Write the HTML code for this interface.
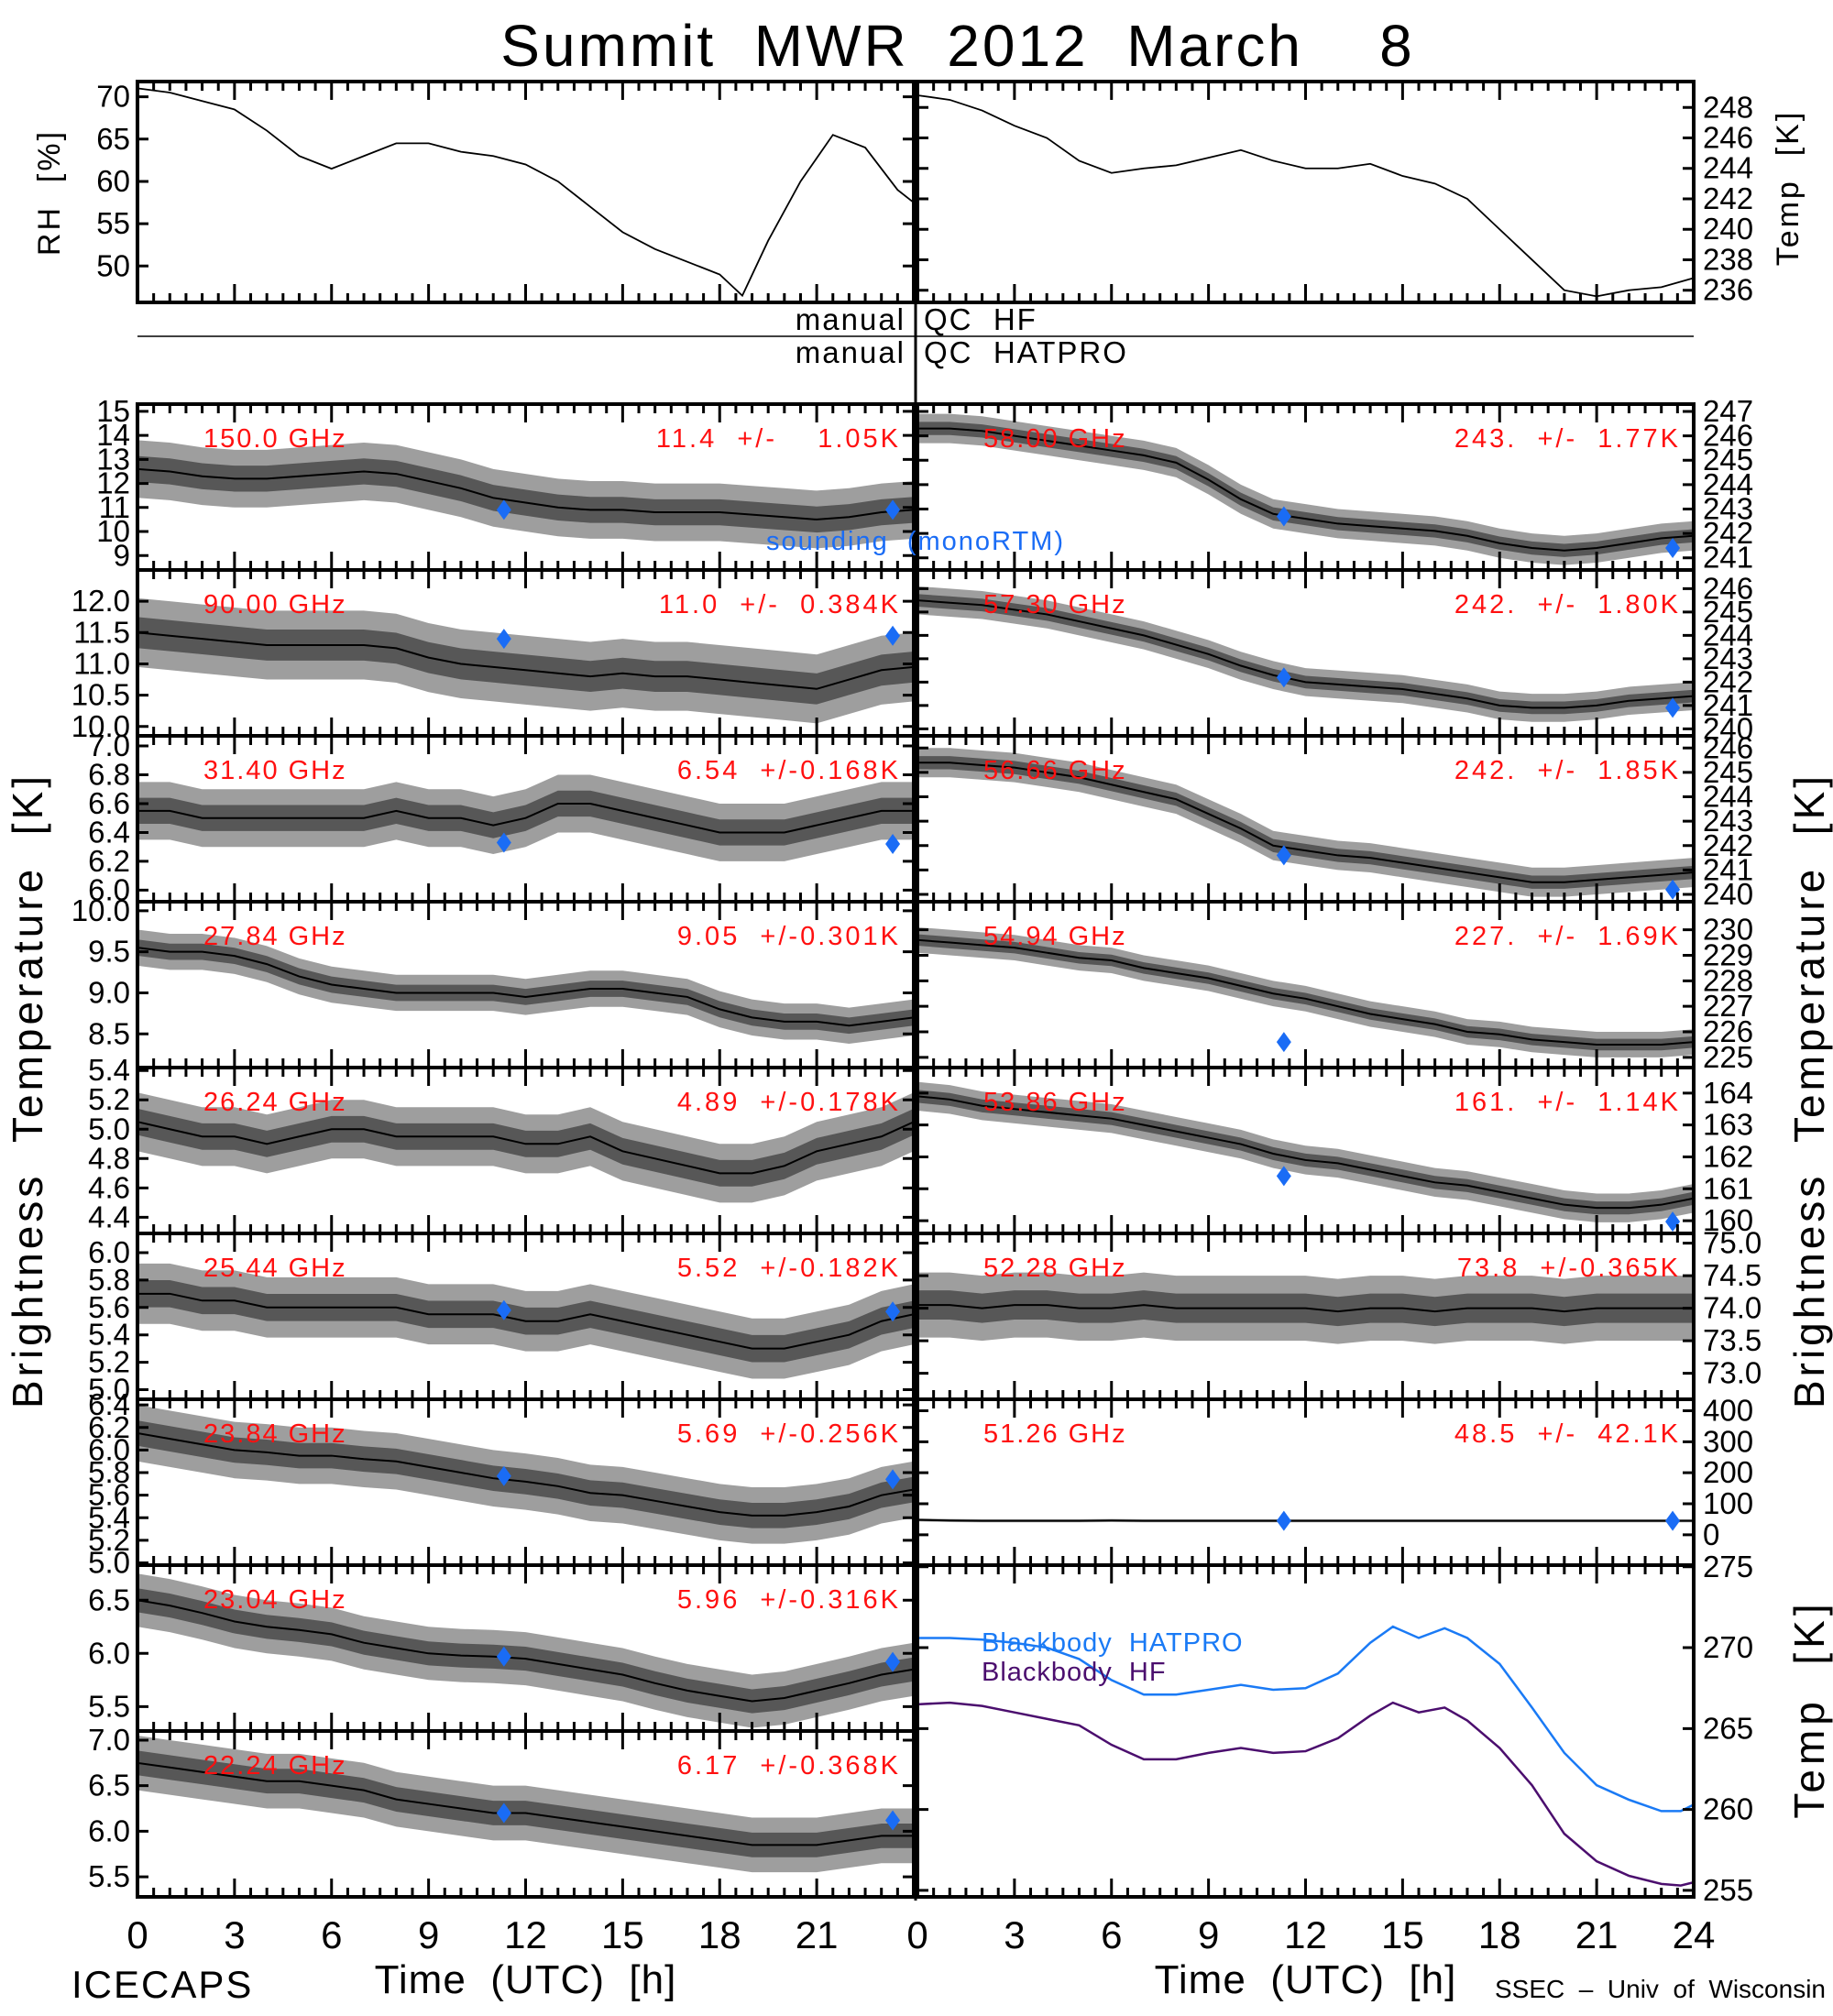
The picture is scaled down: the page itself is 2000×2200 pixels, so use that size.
<!DOCTYPE html>
<html><head><meta charset="utf-8"><style>
html,body{margin:0;padding:0;background:#fff;}
svg{display:block;font-family:"Liberation Sans",sans-serif;}
svg text{white-space:pre;}
</style></head><body>
<svg id="chart" width="2000" height="2200" viewBox="0 0 2000 2200" xmlns="http://www.w3.org/2000/svg">
<rect width="2000" height="2200" fill="#fff"/>
<text x="1045" y="72" font-size="64" text-anchor="middle" letter-spacing="3" style="white-space:pre">Summit  MWR  2012  March    8</text>
<g id="g"></g>
</svg>
<script>
// ---- data (hours, values) ----
const hours = [0,1,2,3,4,5,6,7,8,9,10,11,12,13,14,15,16,17,18,19,20,21,22,23,24];
const rhHours = [0,1,2,3,4,5,6,7,8,9,10,11,12,13,14,15,16,17,18,18.7,19.5,20.5,21.5,22.5,23.5,24];
const rhVals = [71,70.5,69.5,68.5,66,63,61.5,63,64.5,64.5,63.5,63,62,60,57,54,52,50.5,49,46.5,53,60,65.5,64,59,57.5];
const tempHours = [0,1,2,3,4,5,6,7,8,9,10,11,12,13,14,15,16,17,18,19,20,21,22,23,24];
const tempVals = [248.8,248.5,247.8,246.8,246,244.5,243.7,244,244.2,244.7,245.2,244.5,244,244,244.3,243.5,243,242,240,238,236,235.6,236,236.2,236.8];

const bbHours = [0,1,2,3,4,5,6,7,8,9,10,11,12,13,14,14.7,15.5,16.3,17,18,19,20,21,22,23,23.6,24];
const bbHatpro = [270.6,270.6,270.5,270.3,270,269.3,268,267.1,267.1,267.4,267.7,267.4,267.5,268.4,270.3,271.3,270.6,271.2,270.6,269,266.3,263.5,261.5,260.6,259.9,259.9,260.3];
const bbHf = [266.5,266.6,266.4,266,265.6,265.2,264,263.1,263.1,263.5,263.8,263.5,263.6,264.4,265.8,266.6,266,266.3,265.5,263.8,261.5,258.5,256.8,255.9,255.4,255.3,255.5];

const tb150 = [12.6,12.5,12.3,12.2,12.2,12.3,12.4,12.5,12.4,12.1,11.8,11.4,11.2,11.0,10.9,10.9,10.8,10.8,10.8,10.7,10.6,10.5,10.6,10.8,10.9];
const tb90 = [11.5,11.45,11.4,11.35,11.3,11.3,11.3,11.3,11.25,11.1,11.0,10.95,10.9,10.85,10.8,10.85,10.8,10.8,10.75,10.7,10.65,10.6,10.75,10.9,10.95];
const tb3140 = [6.55,6.55,6.5,6.5,6.5,6.5,6.5,6.5,6.55,6.5,6.5,6.45,6.5,6.6,6.6,6.55,6.5,6.45,6.4,6.4,6.4,6.45,6.5,6.55,6.55];
const tb2784 = [9.55,9.5,9.5,9.45,9.35,9.2,9.1,9.05,9.0,9.0,9.0,9.0,8.95,9.0,9.05,9.05,9.0,8.95,8.8,8.7,8.65,8.65,8.6,8.65,8.7];
const tb2824 = [5.05,5.0,4.95,4.95,4.9,4.95,5.0,5.0,4.95,4.95,4.95,4.95,4.9,4.9,4.95,4.85,4.8,4.75,4.7,4.7,4.75,4.85,4.9,4.95,5.05];
const tb2544 = [5.7,5.7,5.65,5.65,5.6,5.6,5.6,5.6,5.6,5.55,5.55,5.55,5.5,5.5,5.55,5.5,5.45,5.4,5.35,5.3,5.3,5.35,5.4,5.5,5.55];
const tb2384 = [6.15,6.1,6.05,6.0,5.98,5.95,5.95,5.92,5.9,5.85,5.8,5.75,5.72,5.68,5.62,5.6,5.55,5.5,5.45,5.42,5.42,5.45,5.5,5.6,5.65];
const tb2304 = [6.5,6.45,6.38,6.3,6.25,6.22,6.18,6.1,6.05,6.0,5.98,5.97,5.95,5.9,5.85,5.8,5.72,5.65,5.6,5.55,5.58,5.65,5.72,5.8,5.85];
const tb2224 = [6.75,6.7,6.65,6.6,6.55,6.55,6.5,6.45,6.35,6.3,6.25,6.2,6.2,6.15,6.1,6.05,6.0,5.95,5.9,5.85,5.85,5.85,5.9,5.95,5.95];
const tb5800 = [246.3,246.3,246.2,246.0,245.8,245.6,245.4,245.2,244.9,244.2,243.4,242.8,242.6,242.4,242.3,242.2,242.1,241.9,241.6,241.4,241.3,241.4,241.6,241.8,241.9];
const tb5730 = [245.5,245.4,245.3,245.1,244.9,244.6,244.3,244.0,243.6,243.2,242.7,242.3,242.0,241.9,241.8,241.7,241.5,241.3,241.0,240.9,240.9,241.0,241.2,241.3,241.4];
const tb5666 = [245.4,245.4,245.3,245.2,245.0,244.8,244.5,244.2,243.9,243.3,242.7,242.0,241.8,241.6,241.5,241.3,241.1,240.9,240.7,240.5,240.5,240.6,240.7,240.8,240.9];
const tb5494 = [229.6,229.5,229.4,229.3,229.1,228.9,228.8,228.5,228.3,228.1,227.8,227.5,227.3,227.0,226.7,226.5,226.3,226.0,225.9,225.7,225.6,225.5,225.5,225.5,225.6];
const tb5386 = [163.9,163.8,163.6,163.5,163.4,163.3,163.2,163.0,162.8,162.6,162.4,162.1,161.9,161.8,161.6,161.4,161.2,161.1,160.9,160.7,160.5,160.4,160.4,160.5,160.7];
const tb5228 = [74.05,74.05,74.0,74.05,74.05,74.0,74.0,74.05,74.0,74.0,74.0,74.0,74.0,73.95,74.0,74.0,73.95,74.0,74.0,74.0,73.95,74.0,74.0,74.0,74.0];
const tb5126 = [48,46,45,45,45,45,46,45,45,45,45,45,45,45,45,45,45,45,45,45,45,45,45,45,45];

const sondeHours = [11.33,23.35];

// panel descriptors (value ranges, tick labels, label strings)
const leftPanels = [
 {name:'150-ghz',vals:tb150,min:8.4,max:15.3,ticks:[9,10,11,12,13,14,15],fmt:0,spread:1.2,sonde:[10.9,10.9],freq:'150.0 GHz',stat:'11.4 +/-  1.05K'},
 {name:'90-ghz',vals:tb90,min:9.85,max:12.5,ticks:[10,10.5,11,11.5,12],fmt:1,spread:0.55,sonde:[11.4,11.45],freq:'90.00 GHz',stat:'11.0 +/- 0.384K'},
 {name:'31-40-ghz',vals:tb3140,min:5.92,max:7.07,ticks:[6.0,6.2,6.4,6.6,6.8,7.0],fmt:1,spread:0.2,sonde:[6.33,6.32],freq:'31.40 GHz',stat:'6.54 +/-0.168K'},
 {name:'27-84-ghz',vals:tb2784,min:8.09,max:10.11,ticks:[8.5,9,9.5,10],fmt:1,spread:0.22,sonde:null,freq:'27.84 GHz',stat:'9.05 +/-0.301K'},
 {name:'26-24-ghz',vals:tb2824,min:4.29,max:5.42,ticks:[4.4,4.6,4.8,5.0,5.2,5.4],fmt:1,spread:0.2,sonde:null,freq:'26.24 GHz',stat:'4.89 +/-0.178K'},
 {name:'25-44-ghz',vals:tb2544,min:4.93,max:6.14,ticks:[5.0,5.2,5.4,5.6,5.8,6.0],fmt:1,spread:0.22,sonde:[5.58,5.57],freq:'25.44 GHz',stat:'5.52 +/-0.182K'},
 {name:'23-84-ghz',vals:tb2384,min:4.98,max:6.45,ticks:[5.0,5.2,5.4,5.6,5.8,6.0,6.2,6.4],fmt:1,spread:0.25,sonde:[5.77,5.74],freq:'23.84 GHz',stat:'5.69 +/-0.256K'},
 {name:'23-04-ghz',vals:tb2304,min:5.27,max:6.83,ticks:[5.5,6.0,6.5],fmt:1,spread:0.25,sonde:[5.97,5.92],freq:'23.04 GHz',stat:'5.96 +/-0.316K'},
 {name:'22-24-ghz',vals:tb2224,min:5.28,max:7.1,ticks:[5.5,6.0,6.5,7.0],fmt:1,spread:0.3,sonde:[6.2,6.12],freq:'22.24 GHz',stat:'6.17 +/-0.368K'}
];
const rightPanels = [
 {name:'58-00-ghz',vals:tb5800,min:240.5,max:247.3,ticks:[241,242,243,244,245,246,247],fmt:0,spread:0.6,sonde:[242.7,241.4],freq:'58.00 GHz',stat:'243. +/- 1.77K'},
 {name:'57-30-ghz',vals:tb5730,min:239.7,max:246.8,ticks:[240,241,242,243,244,245,246],fmt:0,spread:0.6,sonde:[242.2,240.9],freq:'57.30 GHz',stat:'242. +/- 1.80K'},
 {name:'56-66-ghz',vals:tb5666,min:239.7,max:246.5,ticks:[240,241,242,243,244,245,246],fmt:0,spread:0.6,sonde:[241.6,240.2],freq:'56.66 GHz',stat:'242. +/- 1.85K'},
 {name:'54-94-ghz',vals:tb5494,min:224.6,max:231.1,ticks:[225,226,227,228,229,230],fmt:0,spread:0.5,sonde:[225.6,null],freq:'54.94 GHz',stat:'227. +/- 1.69K'},
 {name:'53-86-ghz',vals:tb5386,min:159.6,max:164.8,ticks:[160,161,162,163,164],fmt:0,spread:0.45,sonde:[161.4,159.97],freq:'53.86 GHz',stat:'161. +/- 1.14K'},
 {name:'52-28-ghz',vals:tb5228,min:72.6,max:75.15,ticks:[73,73.5,74,74.5,75],fmt:1,spread:0.5,sonde:null,freq:'52.28 GHz',stat:'73.8 +/-0.365K'},
 {name:'51-26-ghz',vals:tb5126,min:-98,max:437,ticks:[0,100,200,300,400],fmt:0,spread:5,sonde:[45,45],freq:'51.26 GHz',stat:'48.5 +/- 42.1K'}
];
const xTicksLeft = ['0','3','6','9','12','15','18','21'];
const xTicksRight = ['0','3','6','9','12','15','18','21','24'];
const rhTicks = [50,55,60,65,70];
const tempTicks = [236,238,240,242,244,246,248];
const bbTicks = [255,260,265,270,275];

// ---- geometry ----
const NS='http://www.w3.org/2000/svg';
const G=document.getElementById('g');
const LX0=150,LX1=997,RX0=1001,RX1=1848;
const ROW0=441,ROWH=181;
function mk(tag,attrs,parent){const e=document.createElementNS(NS,tag);for(const k in attrs)e.setAttribute(k,attrs[k]);(parent||G).appendChild(e);return e;}
function xs(x0,x1){return h=>x0+(x1-x0)*h/24;}
function ys(y0,y1,mn,mx){return v=>y1-(y1-y0)*(v-mn)/(mx-mn);}

function frame(x0,y0,x1,y1,grp,rightLabels,ticks,yf,fmt){
  const r=mk('rect',{x:x0,y:y0,width:x1-x0,height:y1-y0,fill:'none',stroke:'#000','stroke-width':4},grp);
  
  
  let d='';
  for(let i=0;i<=48;i++){const x=x0+(x1-x0)*i/48;const L=(i%6==0)?20:10;d+=`M${x},${y0}v${L}M${x},${y1}v${-L}`;}
  if(ticks){for(const t of ticks){const y=yf(t);d+=`M${x0},${y}h12M${x1},${y}h-12`;}}
  const p=mk('path',{d:d,stroke:'#000','stroke-width':3,fill:'none'},grp);
  
  
  if(ticks){for(const t of ticks){
    const tx=mk('text',{x:rightLabels?x1+10:x0-8,y:yf(t)+11,'font-size':33,'text-anchor':rightLabels?'start':'end'},grp);
    
    
    tx.textContent=fmt?t.toFixed(fmt):String(t);
  }}
}
function band(vals,hs,xf,yf,spread,grp,clip){
  let up=[],dn=[],ln=[];
  for(let i=0;i<hs.length;i++){const x=xf(hs[i]);up.push(x+','+yf(vals[i]+spread));dn.unshift(x+','+yf(vals[i]-spread));ln.push(x+','+yf(vals[i]));}
  const b=mk('polygon',{points:up.concat(dn).join(' '),fill:'#000','fill-opacity':0.38,'clip-path':clip},grp);
  
  
  let up2=[],dn2=[];
  for(let i=0;i<hs.length;i++){const x=xf(hs[i]);up2.push(x+','+yf(vals[i]+spread*0.45));dn2.unshift(x+','+yf(vals[i]-spread*0.45));}
  const b2=mk('polygon',{points:up2.concat(dn2).join(' '),fill:'#000','fill-opacity':0.45,'clip-path':clip},grp);
  
  
  const l=mk('polyline',{points:ln.join(' '),fill:'none',stroke:'#000','stroke-width':2,'clip-path':clip},grp);
  
  
}
let clipId=0;
function clipRect(x0,y0,x1,y1){const defs=mk('defs',{});const c=mk('clipPath',{id:'c'+(++clipId)},defs);mk('rect',{x:x0,y:y0,width:x1-x0,height:y1-y0},c);return 'url(#c'+clipId+')';}

function drawPanel(p,i,x0,x1,right){
  const y0=ROW0+i*ROWH,y1=y0+ROWH;
  const grp=mk('g',{});
  
  
  const xf=xs(x0,x1),yf=ys(y0,y1,p.min,p.max);
  const clip=clipRect(x0,y0,x1,y1);
  band(p.vals,hours,xf,yf,p.spread,grp,clip);
  if(p.sonde){p.sonde.forEach((v,k)=>{if(v==null)return;const cx=xf(sondeHours[k]),cy=yf(v);
    const dm=mk('polygon',{points:`${cx},${cy-11} ${cx+8},${cy} ${cx},${cy+11} ${cx-8},${cy}`,fill:'#1a6cf5'},grp);
    
    });}
  const f=mk('text',{x:x0+72,y:y0+47,'font-size':29,fill:'#ff1010','letter-spacing':2},grp);
  
  
  f.textContent=p.freq;
  const s=mk('text',{x:x1-14,y:y0+47,'font-size':29,fill:'#ff1010','text-anchor':'end','letter-spacing':3},grp);
  
  
  s.textContent=p.stat.replace(/ /g,'  ');
  frame(x0,y0,x1,y1,grp,right,p.ticks,yf,p.fmt);
}
leftPanels.forEach((p,i)=>drawPanel(p,i,LX0,LX1,false));
rightPanels.forEach((p,i)=>drawPanel(p,i,RX0,RX1,true));

// blackbody panel
(function(){
  const y0=ROW0+7*ROWH,y1=ROW0+9*ROWH;
  const grp=mk('g',{});
  
  
  const xf=xs(RX0,RX1),yf=ys(y0,y1,254.6,275.1);
  const mkLine=(vals,col,name)=>{const pts=bbHours.map((h,i)=>xf(h)+','+yf(vals[i])).join(' ');
    const l=mk('polyline',{points:pts,fill:'none',stroke:col,'stroke-width':2.5},grp);
    
    };
  mkLine(bbHatpro,'#1a7af5','blackbody-hatpro-line');
  mkLine(bbHf,'#4b0e6e','blackbody-hf-line');
  const t1=mk('text',{x:RX0+70,y:y0+94,'font-size':29,fill:'#1a7af5','letter-spacing':1},grp);
  
  
  t1.textContent='Blackbody  HATPRO';
  const t2=mk('text',{x:RX0+70,y:y0+126,'font-size':29,fill:'#4b0e6e','letter-spacing':1},grp);
  
  
  t2.textContent='Blackbody  HF';
  frame(RX0,y0,RX1,y1,grp,true,bbTicks,yf,0);
})();

// top panels
(function(){
  const y0=89,y1=330;
  const g1=mk('g',{});
  
  
  const xf=xs(LX0,LX1),yf=ys(y0,y1,45.7,71.8);
  const l=mk('polyline',{points:rhHours.map((h,i)=>xf(h)+','+yf(rhVals[i])).join(' '),fill:'none',stroke:'#000','stroke-width':1.8},g1);
  
  
  frame(LX0,y0,LX1,y1,g1,false,rhTicks,yf,0);
  const g2=mk('g',{});
  
  
  const xf2=xs(RX0,RX1),yf2=ys(y0,y1,235.2,249.7);
  const l2=mk('polyline',{points:tempHours.map((h,i)=>xf2(h)+','+yf2(tempVals[i])).join(' '),fill:'none',stroke:'#000','stroke-width':1.8},g2);
  
  
  frame(RX0,y0,RX1,y1,g2,true,tempTicks,yf2,0);
})();

// center line, QC strip
const cl=mk('line',{x1:999,y1:89,x2:999,y2:2074,stroke:'#000','stroke-width':3});


const ql=mk('line',{x1:LX0,y1:367,x2:RX1,y2:367,stroke:'#000','stroke-width':1.5});


function txt(name,x,y,size,s,anchor,extra){const t=mk('text',Object.assign({x:x,y:y,'font-size':size,'text-anchor':anchor||'start'},extra||{}));
  
  
  t.textContent=s;return t;}
txt('qc-hf-manual',988,360,33,'manual','end',{'letter-spacing':2});
txt('qc-hf-label',1008,360,33,'QC  HF','start',{'letter-spacing':2});
txt('qc-hatpro-manual',988,396,33,'manual','end',{'letter-spacing':2});
txt('qc-hatpro-label',1008,396,33,'QC  HATPRO','start',{'letter-spacing':2});

// x tick labels
xTicksLeft.forEach((s,i)=>txt('x-tick-label',LX0+(LX1-LX0)*(+s)/24,2126,42,s,'middle'));
xTicksRight.forEach((s,i)=>txt('x-tick-label',RX0+(RX1-RX0)*(+s)/24,2126,42,s,'middle'));
txt('x-axis-title-left',LX0+(LX1-LX0)*0.5,2175,44,'Time  (UTC)  [h]','middle',{'letter-spacing':1});
txt('x-axis-title-right',RX0+(RX1-RX0)*0.5,2175,44,'Time  (UTC)  [h]','middle',{'letter-spacing':1});
txt('icecaps-label',78,2180,42,'ICECAPS','start',{'letter-spacing':2});
txt('ssec-label',1992,2180,28,'SSEC  –  Univ  of  Wisconsin','end');
txt('sounding-legend',999,600,29,'sounding  (monoRTM)','middle',{fill:'#1a6cf5','letter-spacing':2});
// rotated axis titles
txt('y-axis-title-left',0,0,46,'Brightness  Temperature  [K]','middle',{transform:'translate(46,1190) rotate(-90)','letter-spacing':4});
txt('y-axis-title-right',0,0,46,'Brightness  Temperature  [K]','middle',{transform:'translate(1990,1190) rotate(-90)','letter-spacing':4});
txt('rh-axis-title',0,0,34,'RH  [%]','middle',{transform:'translate(65,210) rotate(-90)','letter-spacing':3});
txt('temp-axis-title',0,0,34,'Temp  [K]','middle',{transform:'translate(1962,205) rotate(-90)','letter-spacing':3});
txt('blackbody-axis-title',0,0,46,'Temp  [K]','middle',{transform:'translate(1990,1865) rotate(-90)','letter-spacing':5});
</script>
</body></html>
